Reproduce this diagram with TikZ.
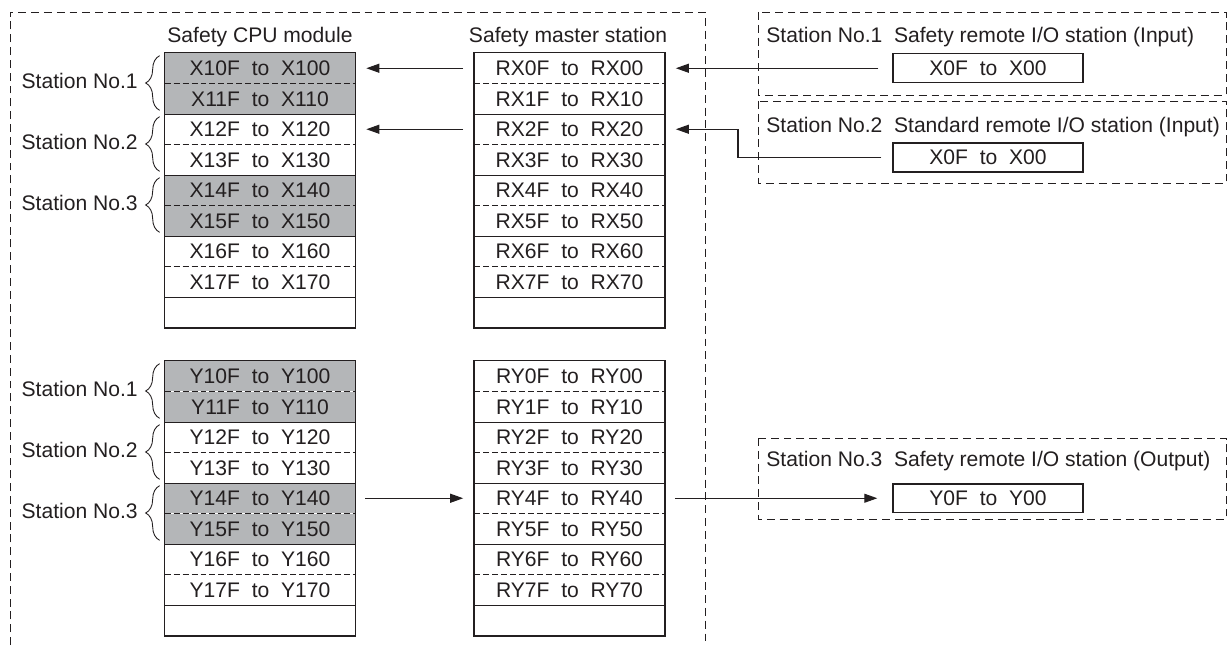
\documentclass[tikz,border=0pt]{standalone}
\usepackage{fontspec}
\setmainfont{Liberation Sans}
\usetikzlibrary{arrows.meta,decorations.pathreplacing}
\definecolor{cellgray}{RGB}{180,182,184}
\definecolor{ink}{RGB}{35,31,32}

\tikzset{
  cell/.style={minimum width=3.8cm,minimum height=0.61cm,inner sep=0pt,font=\fontsize{12}{14}\selectfont},
  lbl/.style={inner sep=0pt,font=\fontsize{12}{14}\selectfont},
  outer/.style={dash pattern=on 4.5pt off 2.8pt,line width=0.5pt},
  sep/.style={dash pattern=on 3.4pt off 1.7pt,line width=0.5pt},
  solid line/.style={line width=0.85pt},
  link/.style={line width=0.6pt,-{Triangle[length=0.26cm,width=0.18cm]}},
  stbrace/.style={decorate,decoration={brace,amplitude=0.28cm},line width=0.5pt}
}

\begin{document}
\begin{tikzpicture}[x=0.02cm,y=-0.02cm,color=ink]
  \useasboundingbox (0,0) rectangle (1229,651);

  % Outer frame (open at the bottom)
  \draw[outer] (10,645) -- (10,12) -- (705,12) -- (705,645);

  % Column titles
  \node[lbl] (cputitle) at (260,37) {Safety CPU module};
  \node[lbl] (mastitle) at (568,37) {Safety master station};

  % Input side: X and RX rows
  \foreach \i/\c in {0/cellgray,1/cellgray,2/white,3/white,4/cellgray,5/cellgray,6/white,7/white} {
    \node[cell,fill=\c] (cpux\i) at (260,{53+30.5*\i+15.25}) {X1\i F\ \ to\ \ X1\i0};
    \node[cell] (rx\i) at (569.5,{53+30.5*\i+15.25}) {RX\i F\ \ to\ \ RX\i0};
  }
  \node[cell] (cpux8) at (260,{53+30.5*8+15.25}) {};
  \node[cell] (rx8) at (569.5,{53+30.5*8+15.25}) {};

  % Output side: Y and RY rows
  \foreach \i/\c in {0/cellgray,1/cellgray,2/white,3/white,4/cellgray,5/cellgray,6/white,7/white} {
    \node[cell,fill=\c] (cpuy\i) at (260,{361+30.5*\i+15.25}) {Y1\i F\ \ to\ \ Y1\i0};
    \node[cell] (ry\i) at (569.5,{361+30.5*\i+15.25}) {RY\i F\ \ to\ \ RY\i0};
  }
  \node[cell] (cpuy8) at (260,{361+30.5*8+15.25}) {};
  \node[cell] (ry8) at (569.5,{361+30.5*8+15.25}) {};

  % Row separators and outlines
  \foreach \col in {cpux,rx,cpuy,ry} {
    \foreach \i in {0,2,4,6}
      \draw[sep] (\col\i.south west) -- (\col\i.south east);
    \foreach \i in {1,3,5,7}
      \draw[solid line] (\col\i.south west) -- (\col\i.south east);
    \draw[solid line] (\col0.north west) rectangle (\col8.south east);
  }

  % Station labels with braces
  \foreach \col/\y in {cpux/0,cpuy/308} {
    \foreach \n/\a/\b in {1/0/1,2/2/3,3/4/5} {
      \draw[stbrace] ([shift={(-5,-4)}]\col\b.south west) -- ([shift={(-5,3)}]\col\a.north west);
      \node[lbl,anchor=east] (st\col\n) at (138,{\y+81+61*(\n-1)}) {Station No.\n};
    }
  }

  % Remote stations
  \draw[outer] (758,12) rectangle (1226,95);
  \node[lbl,anchor=west] (st1title) at (766,37) {Station No.1\ \ Safety remote I/O station (Input)};
  \node[cell,draw,solid line,minimum height=0.58cm] (st1box) at (988,68.25) {X0F\ \ to\ \ X00};

  \draw[outer] (758,101) rectangle (1226,183);
  \node[lbl,anchor=west] (st2title) at (766,127) {Station No.2\ \ Standard remote I/O station (Input)};
  \node[cell,draw,solid line,minimum height=0.58cm] (st2box) at (988,157.5) {X0F\ \ to\ \ X00};

  \draw[outer] (758,438) rectangle (1226,519);
  \node[lbl,anchor=west] (st3title) at (766,461) {Station No.3\ \ Safety remote I/O station (Output)};
  \node[cell,draw,solid line,minimum height=0.58cm] (st3box) at (988,498.25) {Y0F\ \ to\ \ Y00};

  % Data flow arrows
  \coordinate (bend2) at (738,0);
  \draw[link] ([xshift=-0.28cm]st1box.west) -- ([xshift=0.22cm]rx0.east);
  \draw[link] ([xshift=-0.22cm]st2box.west) -| (bend2 |- rx2) -- ([xshift=0.22cm]rx2.east);
  \draw[link] ([xshift=-0.22cm]rx0.west) -- ([xshift=0.22cm]cpux0.east);
  \draw[link] ([xshift=-0.22cm]rx2.west) -- ([xshift=0.22cm]cpux2.east);
  \draw[link] ([xshift=0.2cm]cpuy4.east) -- ([xshift=-0.22cm]ry4.west);
  \draw[link] ([xshift=0.2cm]ry4.east) -- ([xshift=-0.3cm]st3box.west);
\end{tikzpicture}
\end{document}
